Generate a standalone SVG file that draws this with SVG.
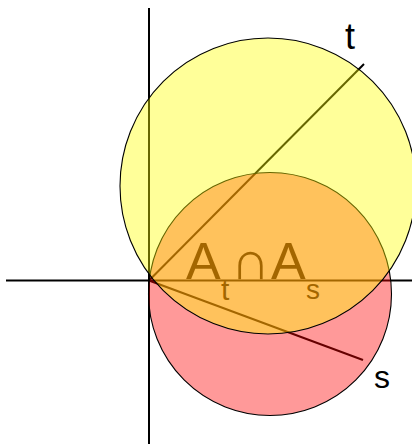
<svg xmlns="http://www.w3.org/2000/svg" width="412" height="445" viewBox="0 0 412 445">
<style>
.ax{stroke:#000;stroke-width:2;fill:none}
.ray{stroke:#000;stroke-width:2;fill:none}
.lbl{font-family:"Liberation Sans",Arial,sans-serif;fill:#000}
.disk{stroke:#000;stroke-width:1.1;fill-opacity:0.4}
</style>
<rect width="412" height="445" fill="#fff"/>
<g id="axes">
<line class="ax" x1="6" y1="280.5" x2="412" y2="280.5"/>
<line class="ax" x1="149" y1="8" x2="149" y2="444"/>
</g>
<g id="rays">
<line class="ray" x1="149" y1="280.5" x2="364" y2="64"/>
<line class="ray" x1="149" y1="280.5" x2="363" y2="360"/>
</g>
<text class="lbl" font-size="52" x="186" y="279">A<tspan font-size="30" x="221" y="300">t</tspan><tspan font-size="54" x="231" y="279">∩</tspan><tspan x="271" y="279">A</tspan><tspan font-size="28" x="306" y="299">s</tspan></text>
<g id="As">
<circle class="disk" cx="270" cy="294" r="121.5" fill="#ff0000"/>
</g>
<g id="At">
<circle class="disk" cx="268" cy="186" r="148" fill="#ffff00"/>
</g>
<text class="lbl" font-size="36" x="345" y="49">t</text>
<text class="lbl" font-size="32" x="374" y="388">s</text>
</svg>
